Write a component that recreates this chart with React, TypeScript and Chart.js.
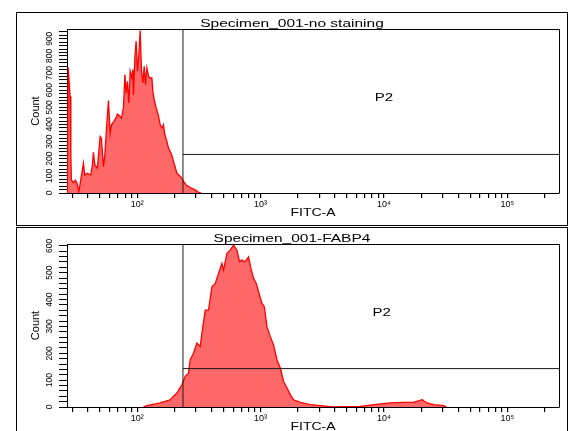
import React, { useEffect, useRef } from 'react';
import { Chart, registerables } from 'chart.js';

Chart.register(...registerables);

const FONT = '"Liberation Sans", Arial, Helvetica, sans-serif';

// ---- X axis (FITC-A, log) ----
const xMin = 27;
const xMax = 262144;
const xTickValues = [
  30, 40, 50, 60, 70, 80, 90,
  100, 200, 300, 400, 500, 600, 700, 800, 900,
  1000, 2000, 3000, 4000, 5000, 6000, 7000, 8000, 9000,
  10000, 20000, 30000, 40000, 50000, 60000, 70000, 80000, 90000,
  100000, 200000,
];
const decadeValues = [100, 1000, 10000, 100000];
const decadeLabels = ['10²', '10³', '10⁴', '10⁵'];

// ---- Top panel: no staining ----
const topTitle = 'Specimen_001-no staining';
const topFitc = [
  27.2, 27.6, 28.6, 29.0, 29.3, 30.5, 31.5, 32.5, 33.7, 34.9,
  36.7, 37.6, 39.5, 42.1, 43.4, 44.2, 45.4, 47.6, 48.9, 50.1,
  51.3, 53.3, 54.7, 56.8, 58.5, 60.4, 61.9, 64.2, 67.2, 69.2,
  71.5, 74.6, 77.4, 79.5, 81.4, 83.4, 85.6, 87.8, 90.6, 92.3,
  93.3, 95.8, 98.1, 100.6, 103.2, 105.8, 108.4, 111.2, 114, 116.8,
  119.9, 123.5, 127.4, 131.6, 134.1, 137.4, 142.6, 148, 153.7, 159.5,
  163.4, 167.7, 174.1, 179.4, 185.2, 192.2, 197, 204.5, 209.9, 217.8,
  230.5, 237.5, 249.7, 269.1, 295.4, 314.2, 330,
];
const topCount = [
  0, 734, 564, 222, 76, 60, 75, 58, 10, 76,
  174, 105, 115, 105, 164, 238, 164, 145, 242, 330,
  320, 154, 222, 408, 539, 350, 398, 414, 437, 461,
  453, 437, 496, 691, 584, 652, 525, 711, 671, 720,
  574, 789, 886, 711, 808, 948, 711, 642, 740, 632,
  730, 681, 671, 671, 593, 544, 496, 457, 398, 379,
  398, 340, 301, 262, 242, 213, 184, 145, 115, 105,
  86, 67, 47, 32, 18, 4, 0,
];
const topYMax = 957;
const topYLabels = [0, 100, 200, 300, 400, 500, 600, 700, 800, 900];
const topGateX = 235;
const topGateY = 225;
const topP2 = { x: 10000, y: 539 };

// ---- Bottom panel: FABP4 ----
const botTitle = 'Specimen_001-FABP4';
const botFitc = [
  112, 119.9, 153.7, 185.2, 209.9, 230.5, 245.1, 260.6, 269.1, 286.2,
  305, 324.3, 334.7, 356, 378.7, 403.5, 429.2, 456.5, 486.4, 501.2,
  534, 568, 604, 643.7, 675.7, 706.6, 751.4, 799, 835.6, 877.3,
  922.7, 963.4, 1026, 1071, 1127, 1199, 1275, 1358, 1445, 1537,
  1637, 1741, 1852, 2099, 2530, 3050, 3888, 6400, 9350, 11270,
  14450, 17410, 20370, 22360, 25300, 30500, 32070,
];
const botCount = [
  0, 5, 15, 27, 52, 83, 114, 126, 176, 200,
  238, 225, 275, 361, 361, 448, 460, 497, 535, 510,
  572, 584, 603, 584, 541, 547, 541, 559, 516, 479,
  460, 429, 386, 374, 299, 262, 231, 176, 145, 95,
  71, 46, 27, 17, 9, 5, 0, 2, 12, 15,
  17, 17, 27, 15, 9, 5, 0,
];
const botYMax = 607;
const botYLabels = [0, 100, 200, 300, 400, 500, 600];
const botGateX = 235;
const botGateY = 143;
const botP2 = { x: 9600, y: 340 };

const yMinorStep = 20;

type PanelCfg = {
  title: string;
  xs: number[];
  ys: number[];
  yMax: number;
  yLabels: number[];
  gateX: number;
  gateY: number;
  p2: { x: number; y: number };
  top: number;
  h: number;
  padTop: number;
  xAxisH: number;
};

const panels: PanelCfg[] = [
  { title: topTitle, xs: topFitc, ys: topCount, yMax: topYMax, yLabels: topYLabels, gateX: topGateX, gateY: topGateY, p2: topP2, top: 0, h: 226, padTop: 29, xAxisH: 33 },
  { title: botTitle, xs: botFitc, ys: botCount, yMax: botYMax, yLabels: botYLabels, gateX: botGateX, gateY: botGateY, p2: botP2, top: 226, h: 205, padTop: 18, xAxisH: 24 },
];

function Panel({ cfg }: { cfg: PanelCfg }) {
  const ref = useRef<HTMLCanvasElement>(null);
  useEffect(() => {
    const annot = {
      id: 'annot',
      afterDraw(chart: any) {
        const { ctx, chartArea: a, scales } = chart;
        ctx.save();
        ctx.strokeStyle = '#000';
        ctx.lineWidth = 1;
        ctx.beginPath();
        ctx.moveTo(Math.round(a.left) + 0.5, Math.round(a.top) + 0.5);
        ctx.lineTo(Math.round(a.right) + 0.5, Math.round(a.top) + 0.5);
        ctx.lineTo(Math.round(a.right) + 0.5, Math.round(a.bottom) + 0.5);
        ctx.stroke();

        ctx.fillStyle = '#000';
        ctx.font = `8.5px ${FONT}`;
        ctx.textAlign = 'center';
        ctx.textBaseline = 'middle';
        for (const v of cfg.yLabels) {
          const y = scales.y.getPixelForValue(v);
          ctx.save();
          ctx.translate(a.left - 17, y);
          ctx.rotate(-Math.PI / 2);
          ctx.fillText(String(v), 0, 0);
          ctx.restore();
        }

        const stretched = (text: string, cx: number, by: number, size: number, sx: number) => {
          ctx.save();
          ctx.translate(cx, by);
          ctx.scale(sx, 1);
          ctx.font = `${size}px ${FONT}`;
          ctx.textAlign = 'center';
          ctx.textBaseline = 'alphabetic';
          ctx.fillText(text, 0, 0);
          ctx.restore();
        };
        stretched(cfg.title, a.left + 225, a.top - 2.5, 10, 1.55);
        stretched('P2', scales.x.getPixelForValue(cfg.p2.x), scales.y.getPixelForValue(cfg.p2.y), 10, 1.5);
        stretched('FITC-A', (a.left + a.right) / 2, a.bottom + 23, 10, 1.4);
        ctx.restore();
      },
    };

    const yTicks: number[] = [];
    for (let v = 0; v <= cfg.yMax; v += yMinorStep) yTicks.push(v);

    const chart = new Chart(ref.current!, {
      type: 'line',
      data: {
        datasets: [
          {
            data: [{ x: cfg.gateX, y: 0 }, { x: cfg.gateX, y: cfg.yMax }],
            borderColor: '#1a1a1a',
            borderWidth: 1,
            pointRadius: 0,
            fill: false,
          },
          {
            data: [{ x: cfg.gateX, y: cfg.gateY }, { x: xMax, y: cfg.gateY }],
            borderColor: '#1a1a1a',
            borderWidth: 1,
            pointRadius: 0,
            fill: false,
          },
          {
            data: cfg.xs.map((x, i) => ({ x, y: cfg.ys[i] })),
            borderColor: '#ff0000',
            backgroundColor: 'rgb(255,104,104)',
            borderWidth: 1.3,
            pointRadius: 0,
            tension: 0,
            fill: 'origin',
          },
        ],
      },
      options: {
        animation: false,
        responsive: false,
        maintainAspectRatio: false,
        events: [],
        layout: { padding: { left: 0, right: 9, top: cfg.padTop, bottom: 0 } },
        plugins: { legend: { display: false }, tooltip: { enabled: false }, title: { display: false } },
        scales: {
          x: {
            type: 'logarithmic',
            min: xMin,
            max: xMax,
            afterFit: (s: any) => { s.height = cfg.xAxisH; },
            afterBuildTicks: (s: any) => { s.ticks = xTickValues.map((value) => ({ value })); },
            ticks: {
              autoSkip: false,
              maxRotation: 0,
              minRotation: 0,
              padding: 1,
              color: '#000',
              font: { family: FONT, size: 9 },
              callback: (v: any) => {
                const i = decadeValues.indexOf(Number(v));
                return i >= 0 ? decadeLabels[i] : '';
              },
            },
            grid: { drawOnChartArea: false, drawTicks: true, tickLength: 5, color: '#000', lineWidth: 1.2 },
            border: { display: true, color: '#000', width: 1 },
            title: { display: false },
          },
          y: {
            type: 'linear',
            min: 0,
            max: cfg.yMax,
            afterFit: (s: any) => { s.width = 67; },
            afterBuildTicks: (s: any) => { s.ticks = yTicks.map((value) => ({ value })); },
            ticks: { display: false },
            grid: { drawOnChartArea: false, drawTicks: true, tickLength: 8, color: '#000', lineWidth: 1 },
            border: { display: true, color: '#000', width: 1 },
            title: {
              display: true,
              text: 'Count',
              color: '#000',
              font: { family: FONT, size: 11 },
              padding: { top: 29, bottom: 0 },
            },
          },
        },
      },
      plugins: [annot],
    } as any);
    return () => chart.destroy();
  }, [cfg]);
  return (
    <canvas
      ref={ref}
      width={568}
      height={cfg.h}
      style={{ position: 'absolute', left: 0, top: cfg.top, width: 568, height: cfg.h, display: 'block' }}
    />
  );
}

export default function App() {
  return (
    <div style={{ position: 'fixed', left: 0, top: 0, width: 568, height: 431, overflow: 'hidden', background: '#fff' }}>
      <div style={{ position: 'absolute', left: 16, top: 12, width: 552, height: 214, border: '1px solid #000', boxSizing: 'border-box' }} />
      <div style={{ position: 'absolute', left: 16, top: 227, width: 552, height: 300, border: '1px solid #000', boxSizing: 'border-box' }} />
      {panels.map((p, i) => (
        <Panel key={i} cfg={p} />
      ))}
    </div>
  );
}
